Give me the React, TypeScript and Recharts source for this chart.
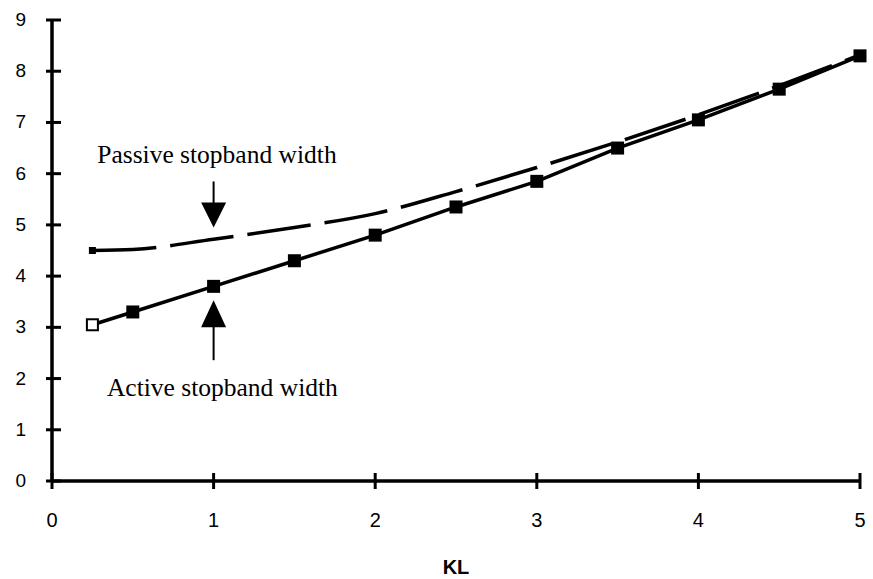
import React from "react";
import { LineChart, Line, XAxis, YAxis, ReferenceDot } from "recharts";

// KL values shared by both curves
const klValues = [0.25, 0.5, 1, 1.5, 2, 2.5, 3, 3.5, 4, 4.5, 5];
// stopband widths
const activeWidth = [3.05, 3.3, 3.8, 4.3, 4.8, 5.35, 5.85, 6.5, 7.05, 7.65, 8.3];
const passiveWidth = [4.5, 4.52, 4.72, 4.95, 5.22, 5.65, 6.12, 6.62, 7.15, 7.72, 8.32];

const xTicks = [0, 1, 2, 3, 4, 5];
const yTicks = [0, 1, 2, 3, 4, 5, 6, 7, 8, 9];

const data = klValues.map((kl, i) => ({
  kl,
  active: activeWidth[i],
  passive: passiveWidth[i],
}));

const SANS = "'Liberation Sans', Arial, sans-serif";
const SERIF = "'Liberation Serif', 'Times New Roman', serif";

function YTick(props: any) {
  const { x, y, payload } = props;
  return (
    <g>
      <line x1={x - 6} x2={x + 9} y1={y} y2={y} stroke="#000" strokeWidth={3} />
      <text x={x - 26} y={y + 6} textAnchor="end" fontFamily={SANS} fontSize={19} fill="#000">
        {payload.value}
      </text>
    </g>
  );
}

function XTick(props: any) {
  const { x, y, payload } = props;
  return (
    <g>
      <line x1={x} x2={x} y1={y - 8} y2={y + 8} stroke="#000" strokeWidth={3} />
      <text x={x} y={y + 46} textAnchor="middle" fontFamily={SANS} fontSize={20} fill="#000">
        {payload.value}
      </text>
    </g>
  );
}

function ActiveDot(props: any) {
  const { cx, cy, index } = props;
  if (cx == null || cy == null) return <g key={`a${index}`} />;
  if (index === 0) {
    return (
      <rect key={`a${index}`} x={cx - 5.5} y={cy - 5.5} width={11} height={11} fill="#fff" stroke="#000" strokeWidth={2} />
    );
  }
  return <rect key={`a${index}`} x={cx - 6.5} y={cy - 6.5} width={13} height={13} fill="#000" />;
}

function PassiveDot(props: any) {
  const { cx, cy, index } = props;
  if (index !== 0 || cx == null) return <g key={`p${index}`} />;
  return <rect key={`p${index}`} x={cx - 3.5} y={cy - 3.5} width={7} height={7} fill="#000" />;
}

function DownArrow(props: any) {
  const { cx, cy } = props;
  return (
    <g>
      <line x1={cx} x2={cx} y1={cy - 46} y2={cy - 20} stroke="#000" strokeWidth={2} />
      <path d={`M${cx - 12.5},${cy - 25} L${cx + 12.5},${cy - 25} L${cx},${cy} Z`} fill="#000" />
    </g>
  );
}

function UpArrow(props: any) {
  const { cx, cy } = props;
  return (
    <g>
      <line x1={cx} x2={cx} y1={cy + 22} y2={cy + 60} stroke="#000" strokeWidth={2} />
      <path d={`M${cx - 12.5},${cy + 27} L${cx + 12.5},${cy + 27} L${cx},${cy} Z`} fill="#000" />
    </g>
  );
}

function Label(text: string) {
  return (props: any) => (
    <text x={props.cx} y={props.cy} fontFamily={SERIF} fontSize={25.5} fill="#000">
      {text}
    </text>
  );
}

export default function App() {
  return (
    <div style={{ position: "absolute", left: 0, top: 0, background: "#fff" }}>
      <LineChart width={873} height={579} data={data} margin={{ top: 20, right: 13, bottom: 0, left: 0 }}>
        <XAxis
          dataKey="kl"
          type="number"
          domain={[0, 5]}
          ticks={xTicks}
          height={98}
          tickSize={0}
          tickMargin={0}
          tickLine={false}
          tick={<XTick />}
          axisLine={{ stroke: "#000", strokeWidth: 3.5 }}
          label={{
            value: "KL",
            position: "insideBottom",
            offset: 5,
            style: { fontFamily: SANS, fontSize: 20, fontWeight: "bold", fill: "#000" },
          }}
        />
        <YAxis
          type="number"
          domain={[0, 9]}
          ticks={yTicks}
          width={52}
          tickSize={0}
          tickMargin={0}
          tickLine={false}
          tick={<YTick />}
          axisLine={{ stroke: "#000", strokeWidth: 3.5 }}
        />
        <Line
          type="monotone"
          dataKey="passive"
          stroke="#000"
          strokeWidth={3.5}
          strokeDasharray="64 14"
          dot={<PassiveDot />}
          activeDot={false}
          isAnimationActive={false}
        />
        <Line
          dataKey="active"
          stroke="#000"
          strokeWidth={3.5}
          dot={<ActiveDot />}
          activeDot={false}
          isAnimationActive={false}
        />
        <ReferenceDot x={1} y={4.95} shape={<DownArrow />} />
        <ReferenceDot x={1} y={3.53} shape={<UpArrow />} />
        <ReferenceDot x={0.28} y={6.2} shape={Label("Passive stopband width")} />
        <ReferenceDot x={0.34} y={1.65} shape={Label("Active stopband width")} />
      </LineChart>
    </div>
  );
}
